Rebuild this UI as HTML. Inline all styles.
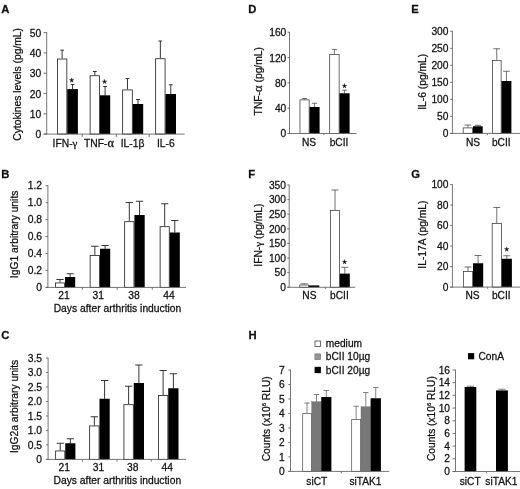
<!DOCTYPE html>
<html><head><meta charset="utf-8"><title>Figure</title>
<style>
html,body{margin:0;padding:0;background:#fff;}
body{width:520px;height:489px;overflow:hidden;}
svg{display:block;font-family:"Liberation Sans", sans-serif;}
text{stroke:#111;stroke-width:0.26px;}
</style></head><body>
<svg width="520" height="489" viewBox="0 0 520 489">
<rect width="520" height="489" fill="#fff"/>
<g opacity="0.999" style="filter:blur(0.32px)">
<text x="1.20" y="12.70" font-size="11.3" text-anchor="start" font-weight="bold" fill="#111">A</text>
<line x1="62.12" y1="50.20" x2="62.12" y2="58.60" stroke="#2a2a2a" stroke-width="0.95"/>
<line x1="60.23" y1="50.20" x2="64.03" y2="50.20" stroke="#2a2a2a" stroke-width="0.95"/>
<rect x="57.42" y="59.02" width="9.40" height="75.08" fill="#fff" stroke="#2a2a2a" stroke-width="0.85"/>
<line x1="72.58" y1="84.50" x2="72.58" y2="89.10" stroke="#2a2a2a" stroke-width="0.95"/>
<line x1="70.67" y1="84.50" x2="74.48" y2="84.50" stroke="#2a2a2a" stroke-width="0.95"/>
<rect x="67.25" y="89.10" width="10.65" height="45.00" fill="#000"/>
<line x1="94.85" y1="71.50" x2="94.85" y2="75.30" stroke="#2a2a2a" stroke-width="0.95"/>
<line x1="92.95" y1="71.50" x2="96.75" y2="71.50" stroke="#2a2a2a" stroke-width="0.95"/>
<rect x="90.12" y="75.72" width="9.45" height="58.38" fill="#fff" stroke="#2a2a2a" stroke-width="0.85"/>
<line x1="105.10" y1="86.50" x2="105.10" y2="95.30" stroke="#2a2a2a" stroke-width="0.95"/>
<line x1="103.20" y1="86.50" x2="107.00" y2="86.50" stroke="#2a2a2a" stroke-width="0.95"/>
<rect x="100.00" y="95.30" width="10.20" height="38.80" fill="#000"/>
<line x1="127.47" y1="78.50" x2="127.47" y2="89.50" stroke="#2a2a2a" stroke-width="0.95"/>
<line x1="125.57" y1="78.50" x2="129.38" y2="78.50" stroke="#2a2a2a" stroke-width="0.95"/>
<rect x="122.62" y="89.92" width="9.70" height="44.17" fill="#fff" stroke="#2a2a2a" stroke-width="0.85"/>
<line x1="137.97" y1="99.50" x2="137.97" y2="104.00" stroke="#2a2a2a" stroke-width="0.95"/>
<line x1="136.07" y1="99.50" x2="139.88" y2="99.50" stroke="#2a2a2a" stroke-width="0.95"/>
<rect x="132.75" y="104.00" width="10.45" height="30.10" fill="#000"/>
<line x1="160.35" y1="41.00" x2="160.35" y2="58.30" stroke="#2a2a2a" stroke-width="0.95"/>
<line x1="158.45" y1="41.00" x2="162.25" y2="41.00" stroke="#2a2a2a" stroke-width="0.95"/>
<rect x="155.62" y="58.72" width="9.45" height="75.38" fill="#fff" stroke="#2a2a2a" stroke-width="0.85"/>
<line x1="170.75" y1="84.80" x2="170.75" y2="94.00" stroke="#2a2a2a" stroke-width="0.95"/>
<line x1="168.85" y1="84.80" x2="172.65" y2="84.80" stroke="#2a2a2a" stroke-width="0.95"/>
<rect x="165.50" y="94.00" width="10.50" height="40.10" fill="#000"/>
<line x1="46.70" y1="32.20" x2="46.70" y2="134.50" stroke="#666" stroke-width="0.9"/>
<line x1="43.50" y1="134.10" x2="184.60" y2="134.10" stroke="#666" stroke-width="0.9"/>
<line x1="43.50" y1="32.60" x2="46.70" y2="32.60" stroke="#666" stroke-width="0.9"/>
<text x="41.20" y="36.61" font-size="10.3" text-anchor="end" fill="#111">50</text>
<line x1="43.50" y1="52.90" x2="46.70" y2="52.90" stroke="#666" stroke-width="0.9"/>
<text x="41.20" y="56.91" font-size="10.3" text-anchor="end" fill="#111">40</text>
<line x1="43.50" y1="73.20" x2="46.70" y2="73.20" stroke="#666" stroke-width="0.9"/>
<text x="41.20" y="77.21" font-size="10.3" text-anchor="end" fill="#111">30</text>
<line x1="43.50" y1="93.50" x2="46.70" y2="93.50" stroke="#666" stroke-width="0.9"/>
<text x="41.20" y="97.51" font-size="10.3" text-anchor="end" fill="#111">20</text>
<line x1="43.50" y1="113.80" x2="46.70" y2="113.80" stroke="#666" stroke-width="0.9"/>
<text x="41.20" y="117.81" font-size="10.3" text-anchor="end" fill="#111">10</text>
<line x1="43.50" y1="134.10" x2="46.70" y2="134.10" stroke="#666" stroke-width="0.9"/>
<text x="41.20" y="138.11" font-size="10.3" text-anchor="end" fill="#111">0</text>
<line x1="82.20" y1="134.10" x2="82.20" y2="137.10" stroke="#666" stroke-width="0.9"/>
<line x1="116.30" y1="134.10" x2="116.30" y2="137.10" stroke="#666" stroke-width="0.9"/>
<line x1="149.20" y1="134.10" x2="149.20" y2="137.10" stroke="#666" stroke-width="0.9"/>
<text x="65.00" y="146.90" font-size="10.3" text-anchor="middle" fill="#111">IFN-<tspan font-family="Liberation Serif" font-size="11">γ</tspan></text>
<text x="99.00" y="146.90" font-size="10.3" text-anchor="middle" fill="#111">TNF-<tspan font-family="Liberation Serif" font-size="12.5">α</tspan></text>
<text x="132.60" y="146.90" font-size="10.3" text-anchor="middle" fill="#111">IL-1β</text>
<text x="165.80" y="146.90" font-size="10.3" text-anchor="middle" fill="#111">IL-6</text>
<text x="21.50" y="84.40" font-size="10.3" text-anchor="middle" transform="rotate(-90 21.50 84.40)" fill="#111">Cytokines levels (pg/mL)</text>
<polygon points="71.70,77.85 72.23,79.57 74.03,79.54 72.56,80.58 73.14,82.28 71.70,81.20 70.26,82.28 70.84,80.58 69.37,79.54 71.17,79.57" fill="#111" stroke="#111" stroke-width="0.3"/>
<polygon points="104.60,79.25 105.13,80.97 106.93,80.94 105.46,81.98 106.04,83.68 104.60,82.60 103.16,83.68 103.74,81.98 102.27,80.94 104.07,80.97" fill="#111" stroke="#111" stroke-width="0.3"/>
<text x="1.20" y="177.80" font-size="11.3" text-anchor="start" font-weight="bold" fill="#111">B</text>
<line x1="60.00" y1="279.50" x2="60.00" y2="282.50" stroke="#2a2a2a" stroke-width="0.95"/>
<line x1="56.40" y1="279.50" x2="63.60" y2="279.50" stroke="#2a2a2a" stroke-width="0.95"/>
<rect x="55.42" y="282.93" width="9.15" height="4.47" fill="#fff" stroke="#2a2a2a" stroke-width="0.85"/>
<line x1="70.10" y1="273.75" x2="70.10" y2="277.00" stroke="#2a2a2a" stroke-width="0.95"/>
<line x1="66.50" y1="273.75" x2="73.70" y2="273.75" stroke="#2a2a2a" stroke-width="0.95"/>
<rect x="65.00" y="277.00" width="10.20" height="10.40" fill="#000"/>
<line x1="94.85" y1="246.25" x2="94.85" y2="255.00" stroke="#2a2a2a" stroke-width="0.95"/>
<line x1="91.25" y1="246.25" x2="98.45" y2="246.25" stroke="#2a2a2a" stroke-width="0.95"/>
<rect x="90.12" y="255.43" width="9.45" height="31.97" fill="#fff" stroke="#2a2a2a" stroke-width="0.85"/>
<line x1="105.10" y1="245.50" x2="105.10" y2="248.75" stroke="#2a2a2a" stroke-width="0.95"/>
<line x1="101.50" y1="245.50" x2="108.70" y2="245.50" stroke="#2a2a2a" stroke-width="0.95"/>
<rect x="100.00" y="248.75" width="10.20" height="38.65" fill="#000"/>
<line x1="129.30" y1="202.50" x2="129.30" y2="221.25" stroke="#2a2a2a" stroke-width="0.95"/>
<line x1="125.70" y1="202.50" x2="132.90" y2="202.50" stroke="#2a2a2a" stroke-width="0.95"/>
<rect x="124.62" y="221.68" width="9.35" height="65.72" fill="#fff" stroke="#2a2a2a" stroke-width="0.85"/>
<line x1="139.55" y1="201.25" x2="139.55" y2="215.00" stroke="#2a2a2a" stroke-width="0.95"/>
<line x1="135.95" y1="201.25" x2="143.15" y2="201.25" stroke="#2a2a2a" stroke-width="0.95"/>
<rect x="134.40" y="215.00" width="10.30" height="72.40" fill="#000"/>
<line x1="164.70" y1="203.75" x2="164.70" y2="226.25" stroke="#2a2a2a" stroke-width="0.95"/>
<line x1="161.10" y1="203.75" x2="168.30" y2="203.75" stroke="#2a2a2a" stroke-width="0.95"/>
<rect x="160.12" y="226.68" width="9.15" height="60.72" fill="#fff" stroke="#2a2a2a" stroke-width="0.85"/>
<line x1="174.75" y1="220.50" x2="174.75" y2="232.50" stroke="#2a2a2a" stroke-width="0.95"/>
<line x1="171.15" y1="220.50" x2="178.35" y2="220.50" stroke="#2a2a2a" stroke-width="0.95"/>
<rect x="169.70" y="232.50" width="10.10" height="54.90" fill="#000"/>
<line x1="47.90" y1="185.30" x2="47.90" y2="287.80" stroke="#666" stroke-width="0.9"/>
<line x1="45.50" y1="287.40" x2="186.00" y2="287.40" stroke="#666" stroke-width="0.9"/>
<line x1="45.50" y1="185.70" x2="47.90" y2="185.70" stroke="#666" stroke-width="0.9"/>
<text x="42.00" y="189.41" font-size="10.3" text-anchor="end" fill="#111">1.2</text>
<line x1="45.50" y1="202.65" x2="47.90" y2="202.65" stroke="#666" stroke-width="0.9"/>
<text x="42.00" y="206.36" font-size="10.3" text-anchor="end" fill="#111">1.0</text>
<line x1="45.50" y1="219.60" x2="47.90" y2="219.60" stroke="#666" stroke-width="0.9"/>
<text x="42.00" y="223.31" font-size="10.3" text-anchor="end" fill="#111">0.8</text>
<line x1="45.50" y1="236.55" x2="47.90" y2="236.55" stroke="#666" stroke-width="0.9"/>
<text x="42.00" y="240.26" font-size="10.3" text-anchor="end" fill="#111">0.6</text>
<line x1="45.50" y1="253.50" x2="47.90" y2="253.50" stroke="#666" stroke-width="0.9"/>
<text x="42.00" y="257.21" font-size="10.3" text-anchor="end" fill="#111">0.4</text>
<line x1="45.50" y1="270.45" x2="47.90" y2="270.45" stroke="#666" stroke-width="0.9"/>
<text x="42.00" y="274.16" font-size="10.3" text-anchor="end" fill="#111">0.2</text>
<line x1="45.50" y1="287.40" x2="47.90" y2="287.40" stroke="#666" stroke-width="0.9"/>
<text x="42.00" y="291.11" font-size="10.3" text-anchor="end" fill="#111">0</text>
<line x1="82.40" y1="287.40" x2="82.40" y2="289.70" stroke="#666" stroke-width="0.9"/>
<line x1="117.20" y1="287.40" x2="117.20" y2="289.70" stroke="#666" stroke-width="0.9"/>
<line x1="152.30" y1="287.40" x2="152.30" y2="289.70" stroke="#666" stroke-width="0.9"/>
<text x="64.00" y="298.90" font-size="10.3" text-anchor="middle" fill="#111">21</text>
<text x="98.30" y="298.90" font-size="10.3" text-anchor="middle" fill="#111">31</text>
<text x="134.00" y="298.90" font-size="10.3" text-anchor="middle" fill="#111">38</text>
<text x="169.00" y="298.90" font-size="10.3" text-anchor="middle" fill="#111">44</text>
<text x="18.10" y="234.40" font-size="10.3" text-anchor="middle" transform="rotate(-90 18.10 234.40)" fill="#111">IgG1 arbitrary units</text>
<text x="117.50" y="312.20" font-size="10.3" text-anchor="middle" fill="#111">Days after arthritis induction</text>
<text x="1.20" y="339.20" font-size="11.3" text-anchor="start" font-weight="bold" fill="#111">C</text>
<line x1="60.23" y1="443.25" x2="60.23" y2="450.50" stroke="#2a2a2a" stroke-width="0.95"/>
<line x1="56.62" y1="443.25" x2="63.83" y2="443.25" stroke="#2a2a2a" stroke-width="0.95"/>
<rect x="55.62" y="450.93" width="9.20" height="8.47" fill="#fff" stroke="#2a2a2a" stroke-width="0.85"/>
<line x1="70.33" y1="438.75" x2="70.33" y2="443.25" stroke="#2a2a2a" stroke-width="0.95"/>
<line x1="66.73" y1="438.75" x2="73.92" y2="438.75" stroke="#2a2a2a" stroke-width="0.95"/>
<rect x="65.25" y="443.25" width="10.15" height="16.15" fill="#000"/>
<line x1="94.35" y1="416.75" x2="94.35" y2="425.50" stroke="#2a2a2a" stroke-width="0.95"/>
<line x1="90.75" y1="416.75" x2="97.95" y2="416.75" stroke="#2a2a2a" stroke-width="0.95"/>
<rect x="89.62" y="425.93" width="9.45" height="33.47" fill="#fff" stroke="#2a2a2a" stroke-width="0.85"/>
<line x1="104.60" y1="380.50" x2="104.60" y2="398.75" stroke="#2a2a2a" stroke-width="0.95"/>
<line x1="101.00" y1="380.50" x2="108.20" y2="380.50" stroke="#2a2a2a" stroke-width="0.95"/>
<rect x="99.50" y="398.75" width="10.20" height="60.65" fill="#000"/>
<line x1="128.62" y1="386.25" x2="128.62" y2="404.25" stroke="#2a2a2a" stroke-width="0.95"/>
<line x1="125.03" y1="386.25" x2="132.22" y2="386.25" stroke="#2a2a2a" stroke-width="0.95"/>
<rect x="123.92" y="404.68" width="9.40" height="54.72" fill="#fff" stroke="#2a2a2a" stroke-width="0.85"/>
<line x1="138.88" y1="365.00" x2="138.88" y2="383.00" stroke="#2a2a2a" stroke-width="0.95"/>
<line x1="135.28" y1="365.00" x2="142.47" y2="365.00" stroke="#2a2a2a" stroke-width="0.95"/>
<rect x="133.75" y="383.00" width="10.25" height="76.40" fill="#000"/>
<line x1="163.12" y1="370.50" x2="163.12" y2="395.00" stroke="#2a2a2a" stroke-width="0.95"/>
<line x1="159.53" y1="370.50" x2="166.72" y2="370.50" stroke="#2a2a2a" stroke-width="0.95"/>
<rect x="158.43" y="395.43" width="9.40" height="63.97" fill="#fff" stroke="#2a2a2a" stroke-width="0.85"/>
<line x1="173.38" y1="373.75" x2="173.38" y2="388.25" stroke="#2a2a2a" stroke-width="0.95"/>
<line x1="169.78" y1="373.75" x2="176.97" y2="373.75" stroke="#2a2a2a" stroke-width="0.95"/>
<rect x="168.25" y="388.25" width="10.25" height="71.15" fill="#000"/>
<line x1="48.10" y1="357.60" x2="48.10" y2="459.80" stroke="#666" stroke-width="0.9"/>
<line x1="45.90" y1="459.40" x2="186.00" y2="459.40" stroke="#666" stroke-width="0.9"/>
<line x1="45.90" y1="358.00" x2="48.10" y2="358.00" stroke="#666" stroke-width="0.9"/>
<text x="42.00" y="361.71" font-size="10.3" text-anchor="end" fill="#111">3.5</text>
<line x1="45.90" y1="372.49" x2="48.10" y2="372.49" stroke="#666" stroke-width="0.9"/>
<text x="42.00" y="376.19" font-size="10.3" text-anchor="end" fill="#111">3.0</text>
<line x1="45.90" y1="386.97" x2="48.10" y2="386.97" stroke="#666" stroke-width="0.9"/>
<text x="42.00" y="390.68" font-size="10.3" text-anchor="end" fill="#111">2.5</text>
<line x1="45.90" y1="401.46" x2="48.10" y2="401.46" stroke="#666" stroke-width="0.9"/>
<text x="42.00" y="405.17" font-size="10.3" text-anchor="end" fill="#111">2.0</text>
<line x1="45.90" y1="415.94" x2="48.10" y2="415.94" stroke="#666" stroke-width="0.9"/>
<text x="42.00" y="419.65" font-size="10.3" text-anchor="end" fill="#111">1.5</text>
<line x1="45.90" y1="430.43" x2="48.10" y2="430.43" stroke="#666" stroke-width="0.9"/>
<text x="42.00" y="434.14" font-size="10.3" text-anchor="end" fill="#111">1.0</text>
<line x1="45.90" y1="444.91" x2="48.10" y2="444.91" stroke="#666" stroke-width="0.9"/>
<text x="42.00" y="448.62" font-size="10.3" text-anchor="end" fill="#111">0.5</text>
<line x1="45.90" y1="459.40" x2="48.10" y2="459.40" stroke="#666" stroke-width="0.9"/>
<text x="42.00" y="463.11" font-size="10.3" text-anchor="end" fill="#111">0</text>
<line x1="82.40" y1="459.40" x2="82.40" y2="461.70" stroke="#666" stroke-width="0.9"/>
<line x1="117.00" y1="459.40" x2="117.00" y2="461.70" stroke="#666" stroke-width="0.9"/>
<line x1="151.30" y1="459.40" x2="151.30" y2="461.70" stroke="#666" stroke-width="0.9"/>
<text x="64.20" y="470.60" font-size="10.3" text-anchor="middle" fill="#111">21</text>
<text x="98.40" y="470.60" font-size="10.3" text-anchor="middle" fill="#111">31</text>
<text x="132.80" y="470.60" font-size="10.3" text-anchor="middle" fill="#111">38</text>
<text x="167.30" y="470.60" font-size="10.3" text-anchor="middle" fill="#111">44</text>
<text x="18.10" y="406.40" font-size="10.3" text-anchor="middle" transform="rotate(-90 18.10 406.40)" fill="#111">IgG2a arbitrary units</text>
<text x="117.30" y="484.10" font-size="10.3" text-anchor="middle" fill="#111">Days after arthritis induction</text>
<text x="248.20" y="12.70" font-size="11.3" text-anchor="start" font-weight="bold" fill="#111">D</text>
<line x1="304.55" y1="98.50" x2="304.55" y2="99.50" stroke="#444" stroke-width="0.75"/>
<line x1="301.90" y1="98.50" x2="307.20" y2="98.50" stroke="#444" stroke-width="0.75"/>
<rect x="299.98" y="99.88" width="9.15" height="33.62" fill="#fff" stroke="#3a3a3a" stroke-width="0.75"/>
<line x1="314.55" y1="103.25" x2="314.55" y2="107.00" stroke="#444" stroke-width="0.75"/>
<line x1="311.90" y1="103.25" x2="317.20" y2="103.25" stroke="#444" stroke-width="0.75"/>
<rect x="309.50" y="107.00" width="10.10" height="26.50" fill="#000"/>
<line x1="334.40" y1="49.40" x2="334.40" y2="54.10" stroke="#444" stroke-width="0.75"/>
<line x1="331.75" y1="49.40" x2="337.05" y2="49.40" stroke="#444" stroke-width="0.75"/>
<rect x="329.68" y="54.48" width="9.45" height="79.03" fill="#fff" stroke="#3a3a3a" stroke-width="0.75"/>
<line x1="344.55" y1="90.20" x2="344.55" y2="93.25" stroke="#444" stroke-width="0.75"/>
<line x1="341.90" y1="90.20" x2="347.20" y2="90.20" stroke="#444" stroke-width="0.75"/>
<rect x="339.50" y="93.25" width="10.10" height="40.25" fill="#000"/>
<line x1="289.50" y1="31.80" x2="289.50" y2="133.90" stroke="#666" stroke-width="0.9"/>
<line x1="287.50" y1="133.50" x2="356.50" y2="133.50" stroke="#666" stroke-width="0.9"/>
<line x1="287.50" y1="32.20" x2="289.50" y2="32.20" stroke="#666" stroke-width="0.9"/>
<text x="286.30" y="36.19" font-size="10.25" text-anchor="end" fill="#111">160</text>
<line x1="287.50" y1="57.53" x2="289.50" y2="57.53" stroke="#666" stroke-width="0.9"/>
<text x="286.30" y="61.52" font-size="10.25" text-anchor="end" fill="#111">120</text>
<line x1="287.50" y1="82.85" x2="289.50" y2="82.85" stroke="#666" stroke-width="0.9"/>
<text x="286.30" y="86.84" font-size="10.25" text-anchor="end" fill="#111">80</text>
<line x1="287.50" y1="108.17" x2="289.50" y2="108.17" stroke="#666" stroke-width="0.9"/>
<text x="286.30" y="112.16" font-size="10.25" text-anchor="end" fill="#111">40</text>
<line x1="287.50" y1="133.50" x2="289.50" y2="133.50" stroke="#666" stroke-width="0.9"/>
<text x="286.30" y="137.49" font-size="10.25" text-anchor="end" fill="#111">0</text>
<line x1="323.80" y1="133.50" x2="323.80" y2="135.10" stroke="#666" stroke-width="0.9"/>
<text x="309.00" y="145.90" font-size="10.2" text-anchor="middle" fill="#111">NS</text>
<text x="339.00" y="145.90" font-size="10.2" text-anchor="middle" fill="#111">bCII</text>
<text x="261.60" y="81.20" font-size="10.3" text-anchor="middle" transform="rotate(-90 261.60 81.20)" fill="#111">TNF-<tspan font-family="Liberation Serif" font-size="12.5">α</tspan> (pg/mL)</text>
<polygon points="344.50,83.55 345.03,85.27 346.83,85.24 345.36,86.28 345.94,87.98 344.50,86.90 343.06,87.98 343.64,86.28 342.17,85.24 343.97,85.27" fill="#111" stroke="#111" stroke-width="0.3"/>
<text x="411.20" y="12.70" font-size="11.3" text-anchor="start" font-weight="bold" fill="#111">E</text>
<line x1="467.90" y1="125.00" x2="467.90" y2="127.50" stroke="#444" stroke-width="0.75"/>
<line x1="464.60" y1="125.00" x2="471.20" y2="125.00" stroke="#444" stroke-width="0.75"/>
<rect x="463.18" y="127.88" width="9.45" height="5.53" fill="#fff" stroke="#3a3a3a" stroke-width="0.75"/>
<line x1="477.85" y1="125.30" x2="477.85" y2="126.25" stroke="#444" stroke-width="0.75"/>
<line x1="474.55" y1="125.30" x2="481.15" y2="125.30" stroke="#444" stroke-width="0.75"/>
<rect x="473.00" y="126.25" width="9.70" height="7.15" fill="#000"/>
<line x1="496.75" y1="48.75" x2="496.75" y2="60.00" stroke="#444" stroke-width="0.75"/>
<line x1="493.45" y1="48.75" x2="500.05" y2="48.75" stroke="#444" stroke-width="0.75"/>
<rect x="492.38" y="60.38" width="8.75" height="73.03" fill="#fff" stroke="#3a3a3a" stroke-width="0.75"/>
<line x1="506.45" y1="71.25" x2="506.45" y2="81.00" stroke="#444" stroke-width="0.75"/>
<line x1="503.15" y1="71.25" x2="509.75" y2="71.25" stroke="#444" stroke-width="0.75"/>
<rect x="501.50" y="81.00" width="9.90" height="52.40" fill="#000"/>
<line x1="452.40" y1="30.90" x2="452.40" y2="133.80" stroke="#666" stroke-width="0.9"/>
<line x1="450.20" y1="133.40" x2="520.00" y2="133.40" stroke="#666" stroke-width="0.9"/>
<line x1="450.20" y1="31.30" x2="452.40" y2="31.30" stroke="#666" stroke-width="0.9"/>
<text x="448.50" y="34.99" font-size="10.25" text-anchor="end" fill="#111">300</text>
<line x1="450.20" y1="48.32" x2="452.40" y2="48.32" stroke="#666" stroke-width="0.9"/>
<text x="448.50" y="52.01" font-size="10.25" text-anchor="end" fill="#111">250</text>
<line x1="450.20" y1="65.33" x2="452.40" y2="65.33" stroke="#666" stroke-width="0.9"/>
<text x="448.50" y="69.02" font-size="10.25" text-anchor="end" fill="#111">200</text>
<line x1="450.20" y1="82.35" x2="452.40" y2="82.35" stroke="#666" stroke-width="0.9"/>
<text x="448.50" y="86.04" font-size="10.25" text-anchor="end" fill="#111">150</text>
<line x1="450.20" y1="99.37" x2="452.40" y2="99.37" stroke="#666" stroke-width="0.9"/>
<text x="448.50" y="103.06" font-size="10.25" text-anchor="end" fill="#111">100</text>
<line x1="450.20" y1="116.38" x2="452.40" y2="116.38" stroke="#666" stroke-width="0.9"/>
<text x="448.50" y="120.07" font-size="10.25" text-anchor="end" fill="#111">50</text>
<line x1="450.20" y1="133.40" x2="452.40" y2="133.40" stroke="#666" stroke-width="0.9"/>
<text x="448.50" y="137.09" font-size="10.25" text-anchor="end" fill="#111">0</text>
<line x1="487.50" y1="133.40" x2="487.50" y2="135.00" stroke="#666" stroke-width="0.9"/>
<text x="473.00" y="145.90" font-size="10.2" text-anchor="middle" fill="#111">NS</text>
<text x="501.25" y="145.90" font-size="10.2" text-anchor="middle" fill="#111">bCII</text>
<text x="425.90" y="81.80" font-size="10.3" text-anchor="middle" transform="rotate(-90 425.90 81.80)" fill="#111">IL-6 (pg/mL)</text>
<text x="248.20" y="177.80" font-size="11.3" text-anchor="start" font-weight="bold" fill="#111">F</text>
<line x1="304.15" y1="283.80" x2="304.15" y2="284.60" stroke="#444" stroke-width="0.75"/>
<line x1="300.65" y1="283.80" x2="307.65" y2="283.80" stroke="#444" stroke-width="0.75"/>
<rect x="299.77" y="284.98" width="8.75" height="2.32" fill="#fff" stroke="#3a3a3a" stroke-width="0.75"/>
<rect x="308.90" y="285.40" width="10.40" height="1.90" fill="#000"/>
<line x1="335.00" y1="190.00" x2="335.00" y2="210.00" stroke="#444" stroke-width="0.75"/>
<line x1="331.50" y1="190.00" x2="338.50" y2="190.00" stroke="#444" stroke-width="0.75"/>
<rect x="330.57" y="210.38" width="8.85" height="76.93" fill="#fff" stroke="#3a3a3a" stroke-width="0.75"/>
<line x1="344.80" y1="267.30" x2="344.80" y2="273.60" stroke="#444" stroke-width="0.75"/>
<line x1="341.30" y1="267.30" x2="348.30" y2="267.30" stroke="#444" stroke-width="0.75"/>
<rect x="339.80" y="273.60" width="10.00" height="13.70" fill="#000"/>
<line x1="289.20" y1="184.60" x2="289.20" y2="287.70" stroke="#666" stroke-width="0.9"/>
<line x1="287.20" y1="287.30" x2="355.30" y2="287.30" stroke="#666" stroke-width="0.9"/>
<line x1="287.20" y1="185.00" x2="289.20" y2="185.00" stroke="#666" stroke-width="0.9"/>
<text x="286.00" y="188.69" font-size="10.25" text-anchor="end" fill="#111">350</text>
<line x1="287.20" y1="199.61" x2="289.20" y2="199.61" stroke="#666" stroke-width="0.9"/>
<text x="286.00" y="203.30" font-size="10.25" text-anchor="end" fill="#111">300</text>
<line x1="287.20" y1="214.23" x2="289.20" y2="214.23" stroke="#666" stroke-width="0.9"/>
<text x="286.00" y="217.92" font-size="10.25" text-anchor="end" fill="#111">250</text>
<line x1="287.20" y1="228.84" x2="289.20" y2="228.84" stroke="#666" stroke-width="0.9"/>
<text x="286.00" y="232.53" font-size="10.25" text-anchor="end" fill="#111">200</text>
<line x1="287.20" y1="243.46" x2="289.20" y2="243.46" stroke="#666" stroke-width="0.9"/>
<text x="286.00" y="247.15" font-size="10.25" text-anchor="end" fill="#111">150</text>
<line x1="287.20" y1="258.07" x2="289.20" y2="258.07" stroke="#666" stroke-width="0.9"/>
<text x="286.00" y="261.76" font-size="10.25" text-anchor="end" fill="#111">100</text>
<line x1="287.20" y1="272.69" x2="289.20" y2="272.69" stroke="#666" stroke-width="0.9"/>
<text x="286.00" y="276.38" font-size="10.25" text-anchor="end" fill="#111">50</text>
<line x1="287.20" y1="287.30" x2="289.20" y2="287.30" stroke="#666" stroke-width="0.9"/>
<text x="286.00" y="290.99" font-size="10.25" text-anchor="end" fill="#111">0</text>
<line x1="325.30" y1="287.30" x2="325.30" y2="288.90" stroke="#666" stroke-width="0.9"/>
<text x="309.40" y="299.40" font-size="10.2" text-anchor="middle" fill="#111">NS</text>
<text x="339.40" y="299.40" font-size="10.2" text-anchor="middle" fill="#111">bCII</text>
<text x="261.60" y="235.10" font-size="10.3" text-anchor="middle" transform="rotate(-90 261.60 235.10)" fill="#111">IFN-<tspan font-family="Liberation Serif" font-size="11">γ</tspan> (pg/mL)</text>
<polygon points="344.60,259.55 345.13,261.27 346.93,261.24 345.46,262.28 346.04,263.98 344.60,262.90 343.16,263.98 343.74,262.28 342.27,261.24 344.07,261.27" fill="#111" stroke="#111" stroke-width="0.3"/>
<text x="411.20" y="177.80" font-size="11.3" text-anchor="start" font-weight="bold" fill="#111">G</text>
<line x1="468.00" y1="267.00" x2="468.00" y2="271.25" stroke="#444" stroke-width="0.75"/>
<line x1="464.50" y1="267.00" x2="471.50" y2="267.00" stroke="#444" stroke-width="0.75"/>
<rect x="463.38" y="271.62" width="9.25" height="15.48" fill="#fff" stroke="#3a3a3a" stroke-width="0.75"/>
<line x1="478.10" y1="255.50" x2="478.10" y2="263.25" stroke="#444" stroke-width="0.75"/>
<line x1="474.60" y1="255.50" x2="481.60" y2="255.50" stroke="#444" stroke-width="0.75"/>
<rect x="473.00" y="263.25" width="10.20" height="23.85" fill="#000"/>
<line x1="496.77" y1="207.50" x2="496.77" y2="223.25" stroke="#444" stroke-width="0.75"/>
<line x1="493.27" y1="207.50" x2="500.27" y2="207.50" stroke="#444" stroke-width="0.75"/>
<rect x="492.18" y="223.62" width="9.20" height="63.48" fill="#fff" stroke="#3a3a3a" stroke-width="0.75"/>
<line x1="506.82" y1="255.75" x2="506.82" y2="258.75" stroke="#444" stroke-width="0.75"/>
<line x1="503.32" y1="255.75" x2="510.32" y2="255.75" stroke="#444" stroke-width="0.75"/>
<rect x="501.75" y="258.75" width="10.15" height="28.35" fill="#000"/>
<line x1="452.40" y1="184.20" x2="452.40" y2="287.50" stroke="#666" stroke-width="0.9"/>
<line x1="450.20" y1="287.10" x2="520.00" y2="287.10" stroke="#666" stroke-width="0.9"/>
<line x1="450.20" y1="184.60" x2="452.40" y2="184.60" stroke="#666" stroke-width="0.9"/>
<text x="448.50" y="188.29" font-size="10.25" text-anchor="end" fill="#111">100</text>
<line x1="450.20" y1="205.10" x2="452.40" y2="205.10" stroke="#666" stroke-width="0.9"/>
<text x="448.50" y="208.79" font-size="10.25" text-anchor="end" fill="#111">80</text>
<line x1="450.20" y1="225.60" x2="452.40" y2="225.60" stroke="#666" stroke-width="0.9"/>
<text x="448.50" y="229.29" font-size="10.25" text-anchor="end" fill="#111">60</text>
<line x1="450.20" y1="246.10" x2="452.40" y2="246.10" stroke="#666" stroke-width="0.9"/>
<text x="448.50" y="249.79" font-size="10.25" text-anchor="end" fill="#111">40</text>
<line x1="450.20" y1="266.60" x2="452.40" y2="266.60" stroke="#666" stroke-width="0.9"/>
<text x="448.50" y="270.29" font-size="10.25" text-anchor="end" fill="#111">20</text>
<line x1="450.20" y1="287.10" x2="452.40" y2="287.10" stroke="#666" stroke-width="0.9"/>
<text x="448.50" y="290.79" font-size="10.25" text-anchor="end" fill="#111">0</text>
<line x1="487.50" y1="287.10" x2="487.50" y2="288.70" stroke="#666" stroke-width="0.9"/>
<text x="472.50" y="299.40" font-size="10.2" text-anchor="middle" fill="#111">NS</text>
<text x="501.25" y="299.40" font-size="10.2" text-anchor="middle" fill="#111">bCII</text>
<text x="425.90" y="234.60" font-size="10.3" text-anchor="middle" transform="rotate(-90 425.90 234.60)" fill="#111">IL-17A (pg/mL)</text>
<polygon points="506.75,246.85 507.28,248.57 509.08,248.54 507.61,249.58 508.19,251.28 506.75,250.20 505.31,251.28 505.89,249.58 504.42,248.54 506.22,248.57" fill="#111" stroke="#111" stroke-width="0.3"/>
<text x="248.60" y="339.20" font-size="11.3" text-anchor="start" font-weight="bold" fill="#111">H</text>
<line x1="307.02" y1="403.00" x2="307.02" y2="413.00" stroke="#5a5a5a" stroke-width="0.75"/>
<line x1="304.27" y1="403.00" x2="309.77" y2="403.00" stroke="#5a5a5a" stroke-width="0.75"/>
<rect x="302.68" y="413.38" width="8.70" height="58.02" fill="#fff" stroke="#555" stroke-width="0.75"/>
<line x1="316.50" y1="394.50" x2="316.50" y2="401.75" stroke="#5a5a5a" stroke-width="0.75"/>
<line x1="313.75" y1="394.50" x2="319.25" y2="394.50" stroke="#5a5a5a" stroke-width="0.75"/>
<rect x="311.75" y="401.75" width="9.50" height="69.65" fill="#787878" stroke="#6a6a6a" stroke-width="0.4"/>
<line x1="326.32" y1="390.50" x2="326.32" y2="397.00" stroke="#5a5a5a" stroke-width="0.75"/>
<line x1="323.57" y1="390.50" x2="329.07" y2="390.50" stroke="#5a5a5a" stroke-width="0.75"/>
<rect x="321.25" y="397.00" width="10.15" height="74.40" fill="#000"/>
<line x1="356.15" y1="406.25" x2="356.15" y2="419.25" stroke="#5a5a5a" stroke-width="0.75"/>
<line x1="353.40" y1="406.25" x2="358.90" y2="406.25" stroke="#5a5a5a" stroke-width="0.75"/>
<rect x="351.68" y="419.62" width="8.95" height="51.77" fill="#fff" stroke="#555" stroke-width="0.75"/>
<line x1="365.80" y1="392.50" x2="365.80" y2="406.75" stroke="#5a5a5a" stroke-width="0.75"/>
<line x1="363.05" y1="392.50" x2="368.55" y2="392.50" stroke="#5a5a5a" stroke-width="0.75"/>
<rect x="361.00" y="406.75" width="9.60" height="64.65" fill="#787878" stroke="#6a6a6a" stroke-width="0.4"/>
<line x1="375.75" y1="387.50" x2="375.75" y2="398.25" stroke="#5a5a5a" stroke-width="0.75"/>
<line x1="373.00" y1="387.50" x2="378.50" y2="387.50" stroke="#5a5a5a" stroke-width="0.75"/>
<rect x="370.60" y="398.25" width="10.30" height="73.15" fill="#000"/>
<line x1="290.50" y1="369.60" x2="290.50" y2="471.80" stroke="#666" stroke-width="0.9"/>
<line x1="288.30" y1="471.40" x2="389.30" y2="471.40" stroke="#666" stroke-width="0.9"/>
<line x1="288.30" y1="370.00" x2="290.50" y2="370.00" stroke="#666" stroke-width="0.9"/>
<text x="284.60" y="373.67" font-size="10.2" text-anchor="end" fill="#111">7</text>
<line x1="288.30" y1="384.49" x2="290.50" y2="384.49" stroke="#666" stroke-width="0.9"/>
<text x="284.60" y="388.16" font-size="10.2" text-anchor="end" fill="#111">6</text>
<line x1="288.30" y1="398.97" x2="290.50" y2="398.97" stroke="#666" stroke-width="0.9"/>
<text x="284.60" y="402.64" font-size="10.2" text-anchor="end" fill="#111">5</text>
<line x1="288.30" y1="413.46" x2="290.50" y2="413.46" stroke="#666" stroke-width="0.9"/>
<text x="284.60" y="417.13" font-size="10.2" text-anchor="end" fill="#111">4</text>
<line x1="288.30" y1="427.94" x2="290.50" y2="427.94" stroke="#666" stroke-width="0.9"/>
<text x="284.60" y="431.61" font-size="10.2" text-anchor="end" fill="#111">3</text>
<line x1="288.30" y1="442.43" x2="290.50" y2="442.43" stroke="#666" stroke-width="0.9"/>
<text x="284.60" y="446.10" font-size="10.2" text-anchor="end" fill="#111">2</text>
<line x1="288.30" y1="456.91" x2="290.50" y2="456.91" stroke="#666" stroke-width="0.9"/>
<text x="284.60" y="460.59" font-size="10.2" text-anchor="end" fill="#111">1</text>
<line x1="288.30" y1="471.40" x2="290.50" y2="471.40" stroke="#666" stroke-width="0.9"/>
<text x="284.60" y="475.07" font-size="10.2" text-anchor="end" fill="#111">0</text>
<line x1="341.30" y1="471.40" x2="341.30" y2="473.40" stroke="#666" stroke-width="0.9"/>
<text x="316.75" y="484.80" font-size="10.2" text-anchor="middle" fill="#111">siCT</text>
<text x="365.50" y="484.80" font-size="10.2" text-anchor="middle" fill="#111">siTAK1</text>
<text x="269.70" y="418.80" font-size="10.2" text-anchor="middle" transform="rotate(-90 269.70 418.80)" fill="#111">Counts (x10<tspan font-size="6" dy="-3.6">6</tspan><tspan dy="3.6"> RLU)</tspan></text>
<rect x="315.00" y="341.00" width="5.50" height="5.50" fill="#fff" stroke="#444" stroke-width="0.8"/>
<text x="325.80" y="347.42" font-size="10.2" text-anchor="start" fill="#111">medium</text>
<rect x="314.90" y="353.90" width="5.70" height="5.70" fill="#969696" stroke="#6a6a6a" stroke-width="0.6"/>
<text x="325.80" y="360.42" font-size="10.2" text-anchor="start" fill="#111">bCII 10µg</text>
<rect x="314.60" y="366.85" width="6.30" height="6.30" fill="#000"/>
<text x="325.80" y="373.67" font-size="10.2" text-anchor="start" fill="#111">bCII 20µg</text>
<line x1="470.45" y1="386.20" x2="470.45" y2="387.00" stroke="#5a5a5a" stroke-width="0.75"/>
<line x1="466.70" y1="386.20" x2="474.20" y2="386.20" stroke="#5a5a5a" stroke-width="0.75"/>
<rect x="464.60" y="387.00" width="11.70" height="84.50" fill="#000"/>
<line x1="501.95" y1="389.20" x2="501.95" y2="390.40" stroke="#5a5a5a" stroke-width="0.75"/>
<line x1="498.20" y1="389.20" x2="505.70" y2="389.20" stroke="#5a5a5a" stroke-width="0.75"/>
<rect x="496.00" y="390.40" width="11.90" height="81.10" fill="#000"/>
<line x1="455.50" y1="369.60" x2="455.50" y2="471.90" stroke="#666" stroke-width="0.9"/>
<line x1="452.50" y1="471.50" x2="520.00" y2="471.50" stroke="#666" stroke-width="0.9"/>
<line x1="452.50" y1="370.00" x2="455.50" y2="370.00" stroke="#666" stroke-width="0.9"/>
<text x="450.00" y="373.67" font-size="10.2" text-anchor="end" fill="#111">16</text>
<line x1="452.50" y1="382.69" x2="455.50" y2="382.69" stroke="#666" stroke-width="0.9"/>
<text x="450.00" y="386.36" font-size="10.2" text-anchor="end" fill="#111">14</text>
<line x1="452.50" y1="395.38" x2="455.50" y2="395.38" stroke="#666" stroke-width="0.9"/>
<text x="450.00" y="399.05" font-size="10.2" text-anchor="end" fill="#111">12</text>
<line x1="452.50" y1="408.06" x2="455.50" y2="408.06" stroke="#666" stroke-width="0.9"/>
<text x="450.00" y="411.73" font-size="10.2" text-anchor="end" fill="#111">10</text>
<line x1="452.50" y1="420.75" x2="455.50" y2="420.75" stroke="#666" stroke-width="0.9"/>
<text x="450.00" y="424.42" font-size="10.2" text-anchor="end" fill="#111">8</text>
<line x1="452.50" y1="433.44" x2="455.50" y2="433.44" stroke="#666" stroke-width="0.9"/>
<text x="450.00" y="437.11" font-size="10.2" text-anchor="end" fill="#111">6</text>
<line x1="452.50" y1="446.12" x2="455.50" y2="446.12" stroke="#666" stroke-width="0.9"/>
<text x="450.00" y="449.80" font-size="10.2" text-anchor="end" fill="#111">4</text>
<line x1="452.50" y1="458.81" x2="455.50" y2="458.81" stroke="#666" stroke-width="0.9"/>
<text x="450.00" y="462.48" font-size="10.2" text-anchor="end" fill="#111">2</text>
<line x1="452.50" y1="471.50" x2="455.50" y2="471.50" stroke="#666" stroke-width="0.9"/>
<text x="450.00" y="475.17" font-size="10.2" text-anchor="end" fill="#111">0</text>
<line x1="486.30" y1="471.50" x2="486.30" y2="473.50" stroke="#666" stroke-width="0.9"/>
<text x="470.20" y="485.20" font-size="10.2" text-anchor="middle" fill="#111">siCT</text>
<text x="501.40" y="485.20" font-size="10.2" text-anchor="middle" fill="#111">siTAK1</text>
<text x="434.70" y="418.60" font-size="10.2" text-anchor="middle" transform="rotate(-90 434.70 418.60)" fill="#111">Counts (x10<tspan font-size="6" dy="-3.6">6</tspan><tspan dy="3.6"> RLU)</tspan></text>
<rect x="468.00" y="353.10" width="6.20" height="6.20" fill="#000"/>
<text x="478.50" y="359.87" font-size="10.2" text-anchor="start" fill="#111">ConA</text>
</g>
</svg>
</body></html>
